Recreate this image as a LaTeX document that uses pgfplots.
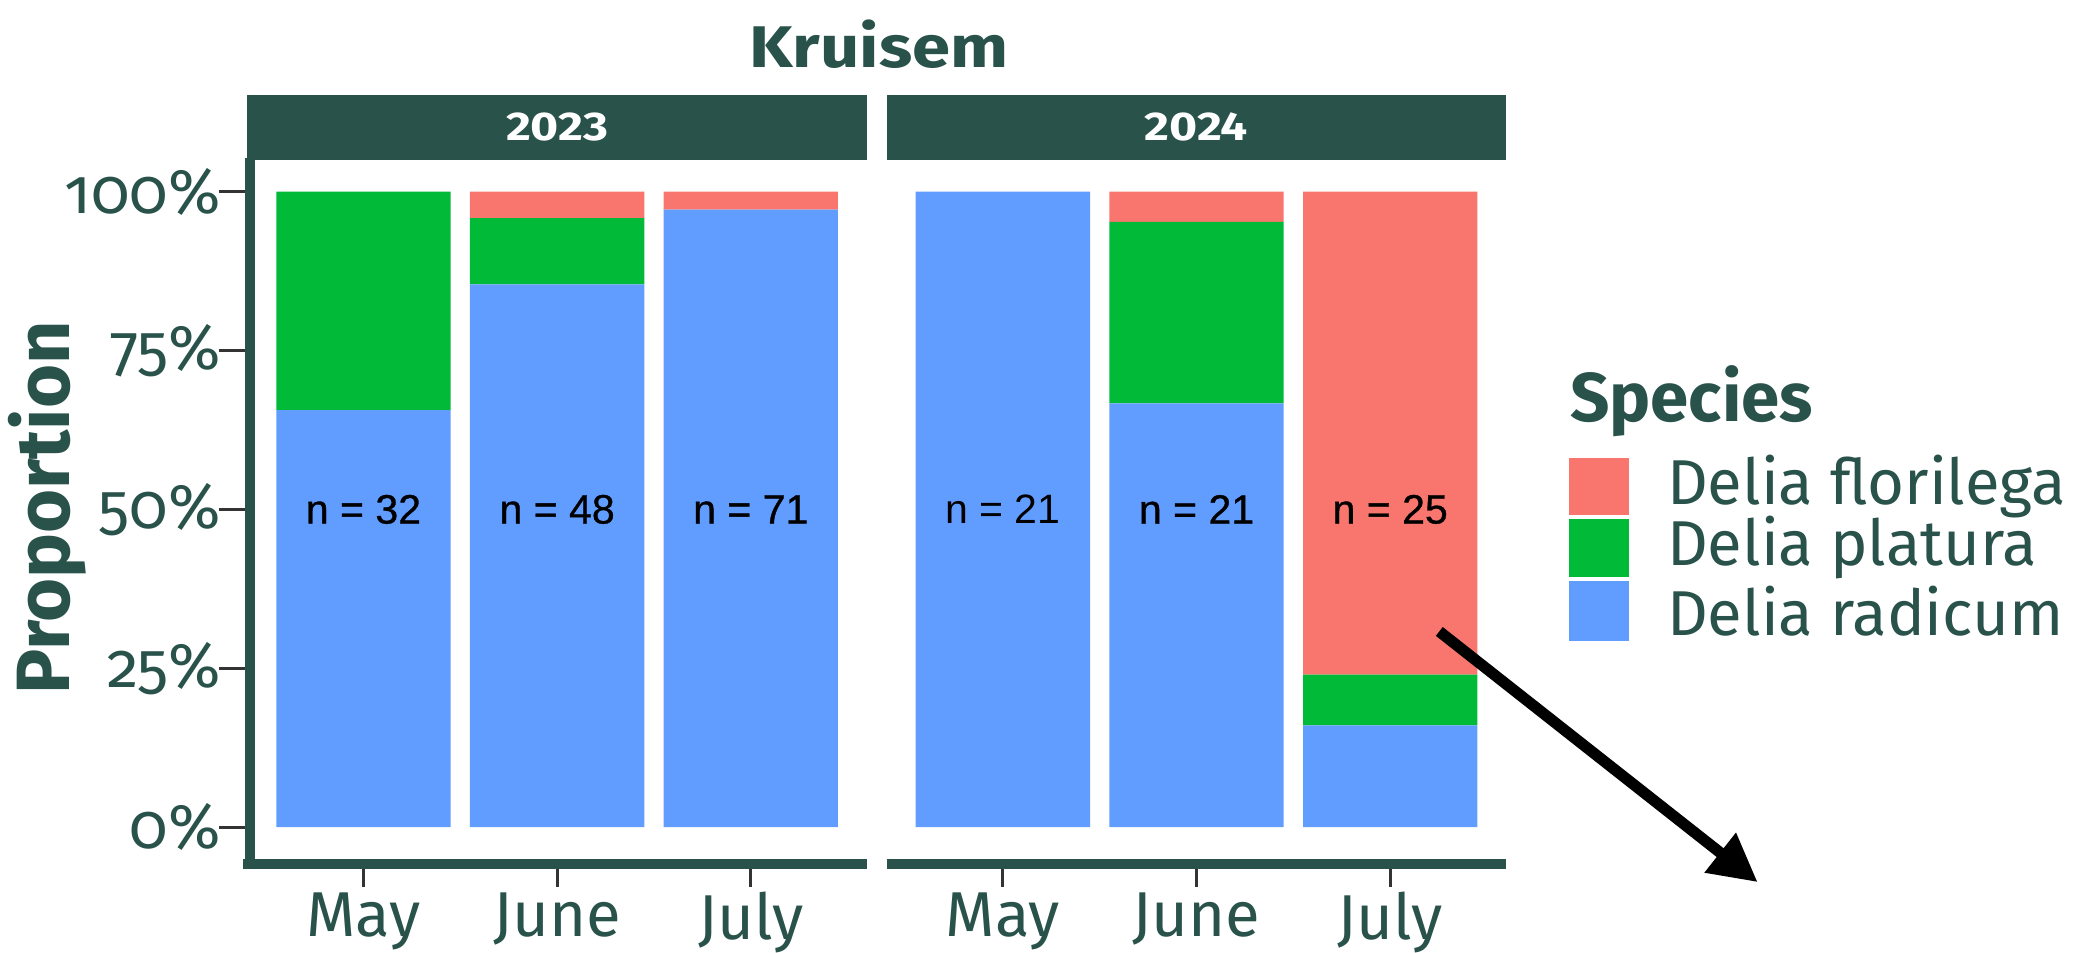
\documentclass[border=0pt]{standalone}
\usepackage{pgfplots}
\pgfplotsset{compat=1.18}
\usepackage{pgfplotstable}
\usetikzlibrary{arrows.meta}
\usepackage{fontspec}
\setmainfont{Fira Sans}[Numbers=OldStyle]
\newfontfamily\nfont{Liberation Sans}
\newfontfamily\nfontb{Liberation Sans}[FakeBold=0.8]
\newfontfamily\stripfont{Fira Sans}[Numbers=Lining]
\definecolor{dg}{HTML}{29524B}
\definecolor{flo}{HTML}{F8766D}
\definecolor{pla}{HTML}{00BA38}
\definecolor{rad}{HTML}{619CFF}
\definecolor{tk}{HTML}{333333}

\pgfplotstableread{
x rad pla flo
1 65.625 34.375 0
2 85.417 10.417 4.166
3 97.183 0 2.817
}\dataA
\pgfplotstableread{
x rad pla flo
1 100 0 0
2 66.667 28.571 4.762
3 16 8 76
}\dataB

\pgfplotsset{panel/.style={
  scale only axis, width=4.672cm, height=5.27cm,
  anchor=south west,
  xmin=0.4, xmax=3.6, ymin=-5, ymax=105,
  ybar stacked, bar width=0.9,
  clip=false,
  axis line style={draw=none},
  xtick={1,2,3}, xticklabels={May,June,July},
  xtick pos=bottom, ytick pos=left,
  tick align=outside, major tick length=0.21cm,
  tick style={tk, line width=0.6pt},
  x tick label style={font=\fontsize{13.6pt}{16pt}\selectfont, text=dg, inner sep=1pt},
  y tick label style={font=\fontsize{13.6pt}{16pt}\selectfont, text=dg, inner sep=1pt, xshift=0.05cm},
  every axis plot/.append style={draw=none},
}}
\tikzset{nlab/.style={font=\nfontb\fontsize{8.8pt}{10pt}\selectfont},
         nlabr/.style={font=\nfont\fontsize{8.8pt}{10pt}\selectfont},
         striplab/.style={text=white, xscale=1.2, font=\stripfont\bfseries\fontsize{8.6pt}{10pt}\selectfont}}

\begin{document}
\begin{tikzpicture}
\useasboundingbox (0,0) rectangle (15.68,7.18);

% Panel 2023
\begin{axis}[panel, at={(1.864cm,0.705cm)},
  ytick={0,25,50,75,100}, yticklabels={0\%,25\%,50\%,75\%,100\%}]
\addplot[fill=rad] table[x=x,y=rad]{\dataA};
\addplot[fill=pla] table[x=x,y=pla]{\dataA};
\addplot[fill=flo] table[x=x,y=flo]{\dataA};
\coordinate (a1) at (axis cs:1,50);
\coordinate (a2) at (axis cs:2,50);
\coordinate (a3) at (axis cs:3,50);
\coordinate (atl) at (rel axis cs:0,1);
\coordinate (atr) at (rel axis cs:1,1);
\coordinate (abl) at (rel axis cs:0,0);
\coordinate (abr) at (rel axis cs:1,0);
\end{axis}

% Panel 2024
\begin{axis}[panel, at={(6.684cm,0.705cm)}, ymajorticks=false]
\addplot[fill=rad] table[x=x,y=rad]{\dataB};
\addplot[fill=pla] table[x=x,y=pla]{\dataB};
\addplot[fill=flo] table[x=x,y=flo]{\dataB};
\coordinate (b1) at (axis cs:1,50);
\coordinate (b2) at (axis cs:2,50);
\coordinate (b3) at (axis cs:3,50);
\coordinate (btl) at (rel axis cs:0,1);
\coordinate (btr) at (rel axis cs:1,1);
\coordinate (bbl) at (rel axis cs:0,0);
\coordinate (bbr) at (rel axis cs:1,0);
\end{axis}

% n labels
\node[nlab] at (a1) {n = 32};
\node[nlab] at (a2) {n = 48};
\node[nlab] at (a3) {n = 71};
\node[nlabr] at (b1) {n = 21};
\node[nlab] at (b2) {n = 21};
\node[nlab] at (b3) {n = 25};

% strips
\fill[dg] (atl) rectangle ([yshift=0.49cm]atr);
\fill[dg] (btl) rectangle ([yshift=0.49cm]btr);
\path (atl) -- (atr) node[midway, yshift=0.245cm, striplab] {2023};
\path (btl) -- (btr) node[midway, yshift=0.245cm, striplab] {2024};

% thick axis lines
\draw[dg, line width=2.1pt] ([xshift=0.6pt,yshift=0.5pt]atl) -- ([xshift=0.6pt,yshift=-1.2pt]abl);
\draw[dg, line width=2.2pt] ([xshift=-1.0pt,yshift=-0.04cm]abl) -- ([yshift=-0.04cm]abr);
\draw[dg, line width=2.2pt] ([yshift=-0.04cm]bbl) -- ([yshift=-0.04cm]bbr);

% Title
\node[text=dg, xscale=1.17, font=\bfseries\fontsize{12.6pt}{14pt}\selectfont] at (6.625,6.85) {Kruisem};
% Y label
\node[text=dg, rotate=90, font=\bfseries\fontsize{16.2pt}{18pt}\selectfont] at (0.36,3.35) {Proportion};

% Legend
\node[text=dg, anchor=base west, inner sep=0pt, font=\bfseries\fontsize{14.8pt}{16pt}\selectfont] at (11.83,4.00) {Species};
\fill[flo] (11.83,3.73) rectangle (12.28,3.30);
\fill[pla] (11.83,3.27) rectangle (12.28,2.83);
\fill[rad] (11.83,2.80) rectangle (12.28,2.35);
\node[text=dg, anchor=west, inner sep=0pt, font=\fontsize{13.6pt}{16pt}\selectfont] at (12.56,3.515) {Delia florilega};
\node[text=dg, anchor=west, inner sep=0pt, font=\fontsize{13.6pt}{16pt}\selectfont] at (12.56,3.05) {Delia platura};
\node[text=dg, anchor=west, inner sep=0pt, font=\fontsize{13.6pt}{16pt}\selectfont] at (12.56,2.575) {Delia radicum};

% Arrow
\draw[black, line width=2.4pt, -{Triangle[length=0.36cm,width=0.36cm]}] (10.85,2.42) -- (13.25,0.53);
\end{tikzpicture}
\end{document}
